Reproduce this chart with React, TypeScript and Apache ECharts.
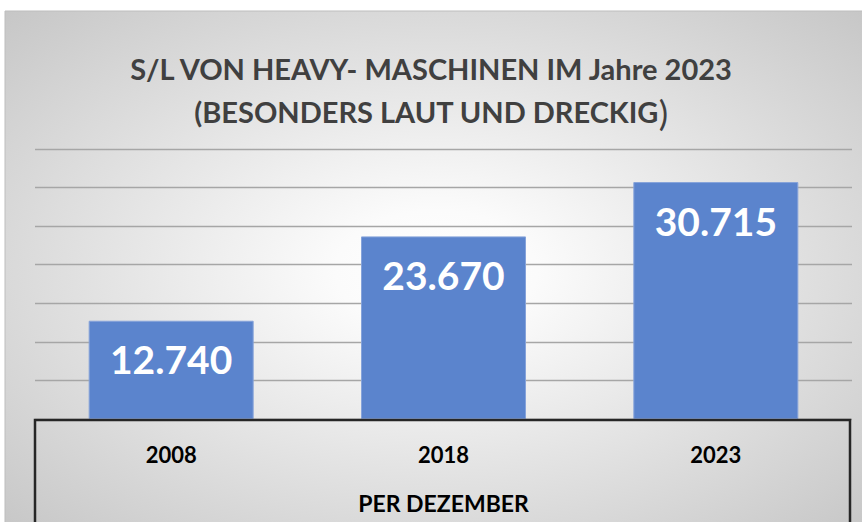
import React, { useEffect, useRef } from "react";
import * as echarts from "echarts";

const categories = ["2008", "2018", "2023"];
const values = [12740, 23670, 30715];
const titleLine1 = "S/L VON HEAVY- MASCHINEN IM Jahre 2023";
const titleLine2 = "(BESONDERS LAUT UND DRECKIG";
const axisName = "PER DEZEMBER";

const FONT = "Lato, 'Open Sans', sans-serif";

function fmt(v: number): string {
  const s = String(Math.round(v));
  return s.replace(/\B(?=(\d{3})+(?!\d))/g, ".");
}

export default function App() {
  const ref = useRef<HTMLDivElement>(null);
  useEffect(() => {
    document.body.style.margin = "0";
    const chart = echarts.init(ref.current!, undefined, { renderer: "svg" });
    chart.setOption({
      animation: false,
      backgroundColor: "#ffffff",
      title: {
        text: `{a|${titleLine1}}\n{a|${titleLine2}}{b|)}`,
        left: "center",
        top: 42,
        textStyle: {
          rich: {
            a: { fontFamily: FONT, fontWeight: "bold", fontSize: 29, color: "#404040", lineHeight: 43 },
            b: { fontFamily: FONT, fontWeight: "normal", fontSize: 35, color: "#404040", lineHeight: 43 },
          },
        },
      },
      graphic: [
        {
          type: "rect",
          z: -10,
          silent: true,
          shape: { x: 5, y: 11, width: 862, height: 520 },
          style: {
            fill: {
              type: "radial",
              x: 0.5,
              y: 0.5,
              r: 0.78,
              colorStops: [
                { offset: 0, color: "#ffffff" },
                { offset: 0.15, color: "#fbfbfb" },
                { offset: 1, color: "#c0c0c0" },
              ],
            },
            stroke: "#bdbdbd",
            lineWidth: 1,
          },
        },
        {
          type: "rect",
          z: 10,
          silent: true,
          shape: { x: 35, y: 420, width: 815, height: 120 },
          style: { fill: "none", stroke: "#262626", lineWidth: 2.5 },
        },
      ],
      grid: { left: 35, right: 10, top: 149, bottom: 103 },
      xAxis: {
        type: "category",
        data: categories,
        axisLine: { show: false },
        axisTick: { show: false },
        axisLabel: {
          margin: 24,
          fontFamily: FONT,
          fontWeight: "bold",
          fontSize: 22,
          color: "#000000",
        },
        name: axisName,
        nameLocation: "middle",
        nameGap: 72,
        nameTextStyle: {
          fontFamily: FONT,
          fontWeight: "bold",
          fontSize: 23,
          color: "#000000",
        },
      },
      yAxis: {
        type: "value",
        min: 0,
        max: 35000,
        interval: 5000,
        axisLabel: { show: false },
        axisLine: { show: false },
        axisTick: { show: false },
        splitLine: { lineStyle: { color: "#a6a6a6", width: 1.3 } },
      },
      series: [
        {
          type: "bar",
          data: values,
          barWidth: 165,
          itemStyle: {
            color: "#5b84cd",
            borderColor: "#86a3da",
            borderWidth: 1,
          },
          label: {
            show: true,
            position: "insideTop",
            distance: 19,
            formatter: (p: any) => fmt(p.value),
            fontFamily: FONT,
            fontWeight: "bold",
            fontSize: 39,
            color: "#ffffff",
          },
        },
      ],
    });
    return () => chart.dispose();
  }, []);
  return <div ref={ref} style={{ width: 862, height: 522 }} />;
}
